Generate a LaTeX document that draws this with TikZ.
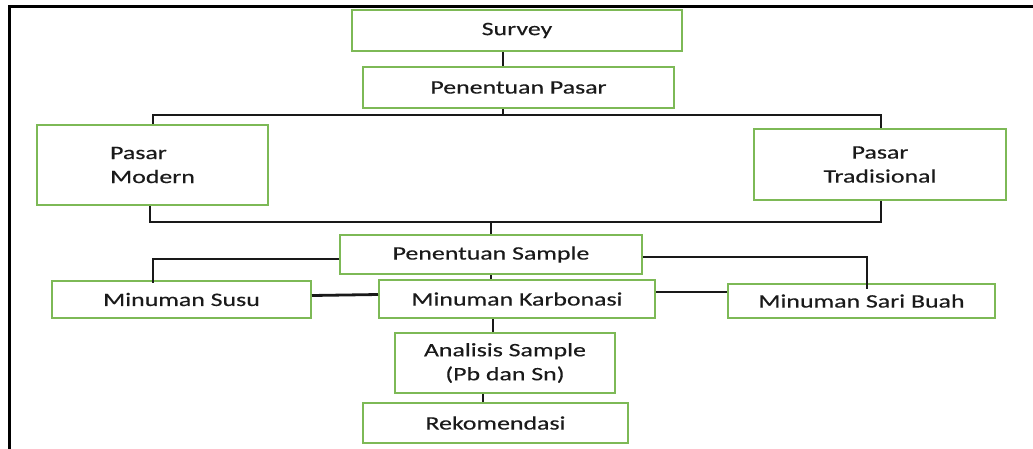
\documentclass[tikz,border=0pt]{standalone}
\usepackage{fontspec}
\setmainfont[FakeStretch=1.36,FakeBold=0.3]{Carlito}
\definecolor{boxgreen}{HTML}{7DB956}
\definecolor{txt}{HTML}{1A1A1A}
\begin{document}
\begin{tikzpicture}[x=1pt,y=-1pt,
  box/.style={draw=boxgreen,line width=2pt,fill=white,rectangle,inner sep=0pt,
    text=txt,font=\fontsize{19}{24}\selectfont,align=center},
  conn/.style={draw=black!90,line width=2.8pt}]
\useasboundingbox (0,0) rectangle (1033,448);
% outer frame (top and left edges)
\draw[line width=3.5pt,line cap=rect] (9.5,448) -- (9.5,6.5) -- (1033,6.5);

\node[box,minimum width=330pt,minimum height=41pt] (survey) at (517,30.5) {Survey};
\node[box,minimum width=311pt,minimum height=41pt] (pasar) at (518.5,87.5) {Penentuan Pasar};
\node[box,minimum width=231pt,minimum height=80pt,align=left] (modern) at (152.5,165) {Pasar\\Modern};
\node[box,minimum width=252pt,minimum height=71pt] (trad) at (880,164.5) {Pasar\\Tradisional};
\node[box,minimum width=302pt,minimum height=39pt] (sample) at (491,254.5) {Penentuan Sample};
\node[box,minimum width=259pt,minimum height=37pt] (susu) at (181.5,299.5) {Minuman Susu};
\node[box,minimum width=276pt,minimum height=38pt] (karbo) at (517,299) {Minuman Karbonasi};
\node[box,minimum width=267pt,minimum height=34pt] (sari) at (861.5,301) {Minuman Sari Buah};
\node[box,minimum width=220pt,minimum height=60pt] (analisis) at (505,363) {Analisis Sample\\(Pb dan Sn)};
\node[box,minimum width=265pt,minimum height=40pt] (rekom) at (495.5,423) {Rekomendasi};

% junction coordinates
\coordinate (busA) at (503,115);
\coordinate (busL) at (153,115);
\coordinate (busR) at (881,115);
\coordinate (busB) at (491,222);
\coordinate (botL) at (150,222);
\coordinate (botR) at (881,222);
\coordinate (sL) at (153,259);
\coordinate (sR) at (867,257);

\draw[conn] (survey.south -| busA) -- (pasar.north -| busA);
\draw[conn] (pasar.south -| busA) -- (busA);
\draw[conn] (modern.north -| busL) -- (busL) -- (busR) -- (trad.north -| busR);
\draw[conn] (modern.south -| botL) -- (botL) -- (botR) -- (trad.south -| botR);
\draw[conn] (busB) -- (sample.north -| busB);
\draw[conn] (sample.west |- sL) -- (sL) -- ([yshift=-3pt]susu.north -| sL);
\draw[conn] (sample.east |- sR) -- (sR) -- ([yshift=-6pt]sari.north -| sR);
\draw[conn] (susu.east |- 0,295.5) -- (karbo.west |- 0,294.5);
\draw[conn] (karbo.east |- 0,292) -- (sari.west |- 0,292);
\draw[conn] (sample.south -| busB) -- (karbo.north -| busB);
\draw[conn] (karbo.south -| 493,0) -- (analisis.north -| 493,0);
\draw[conn] (analisis.south -| 483,0) -- (rekom.north -| 483,0);
\end{tikzpicture}
\end{document}
